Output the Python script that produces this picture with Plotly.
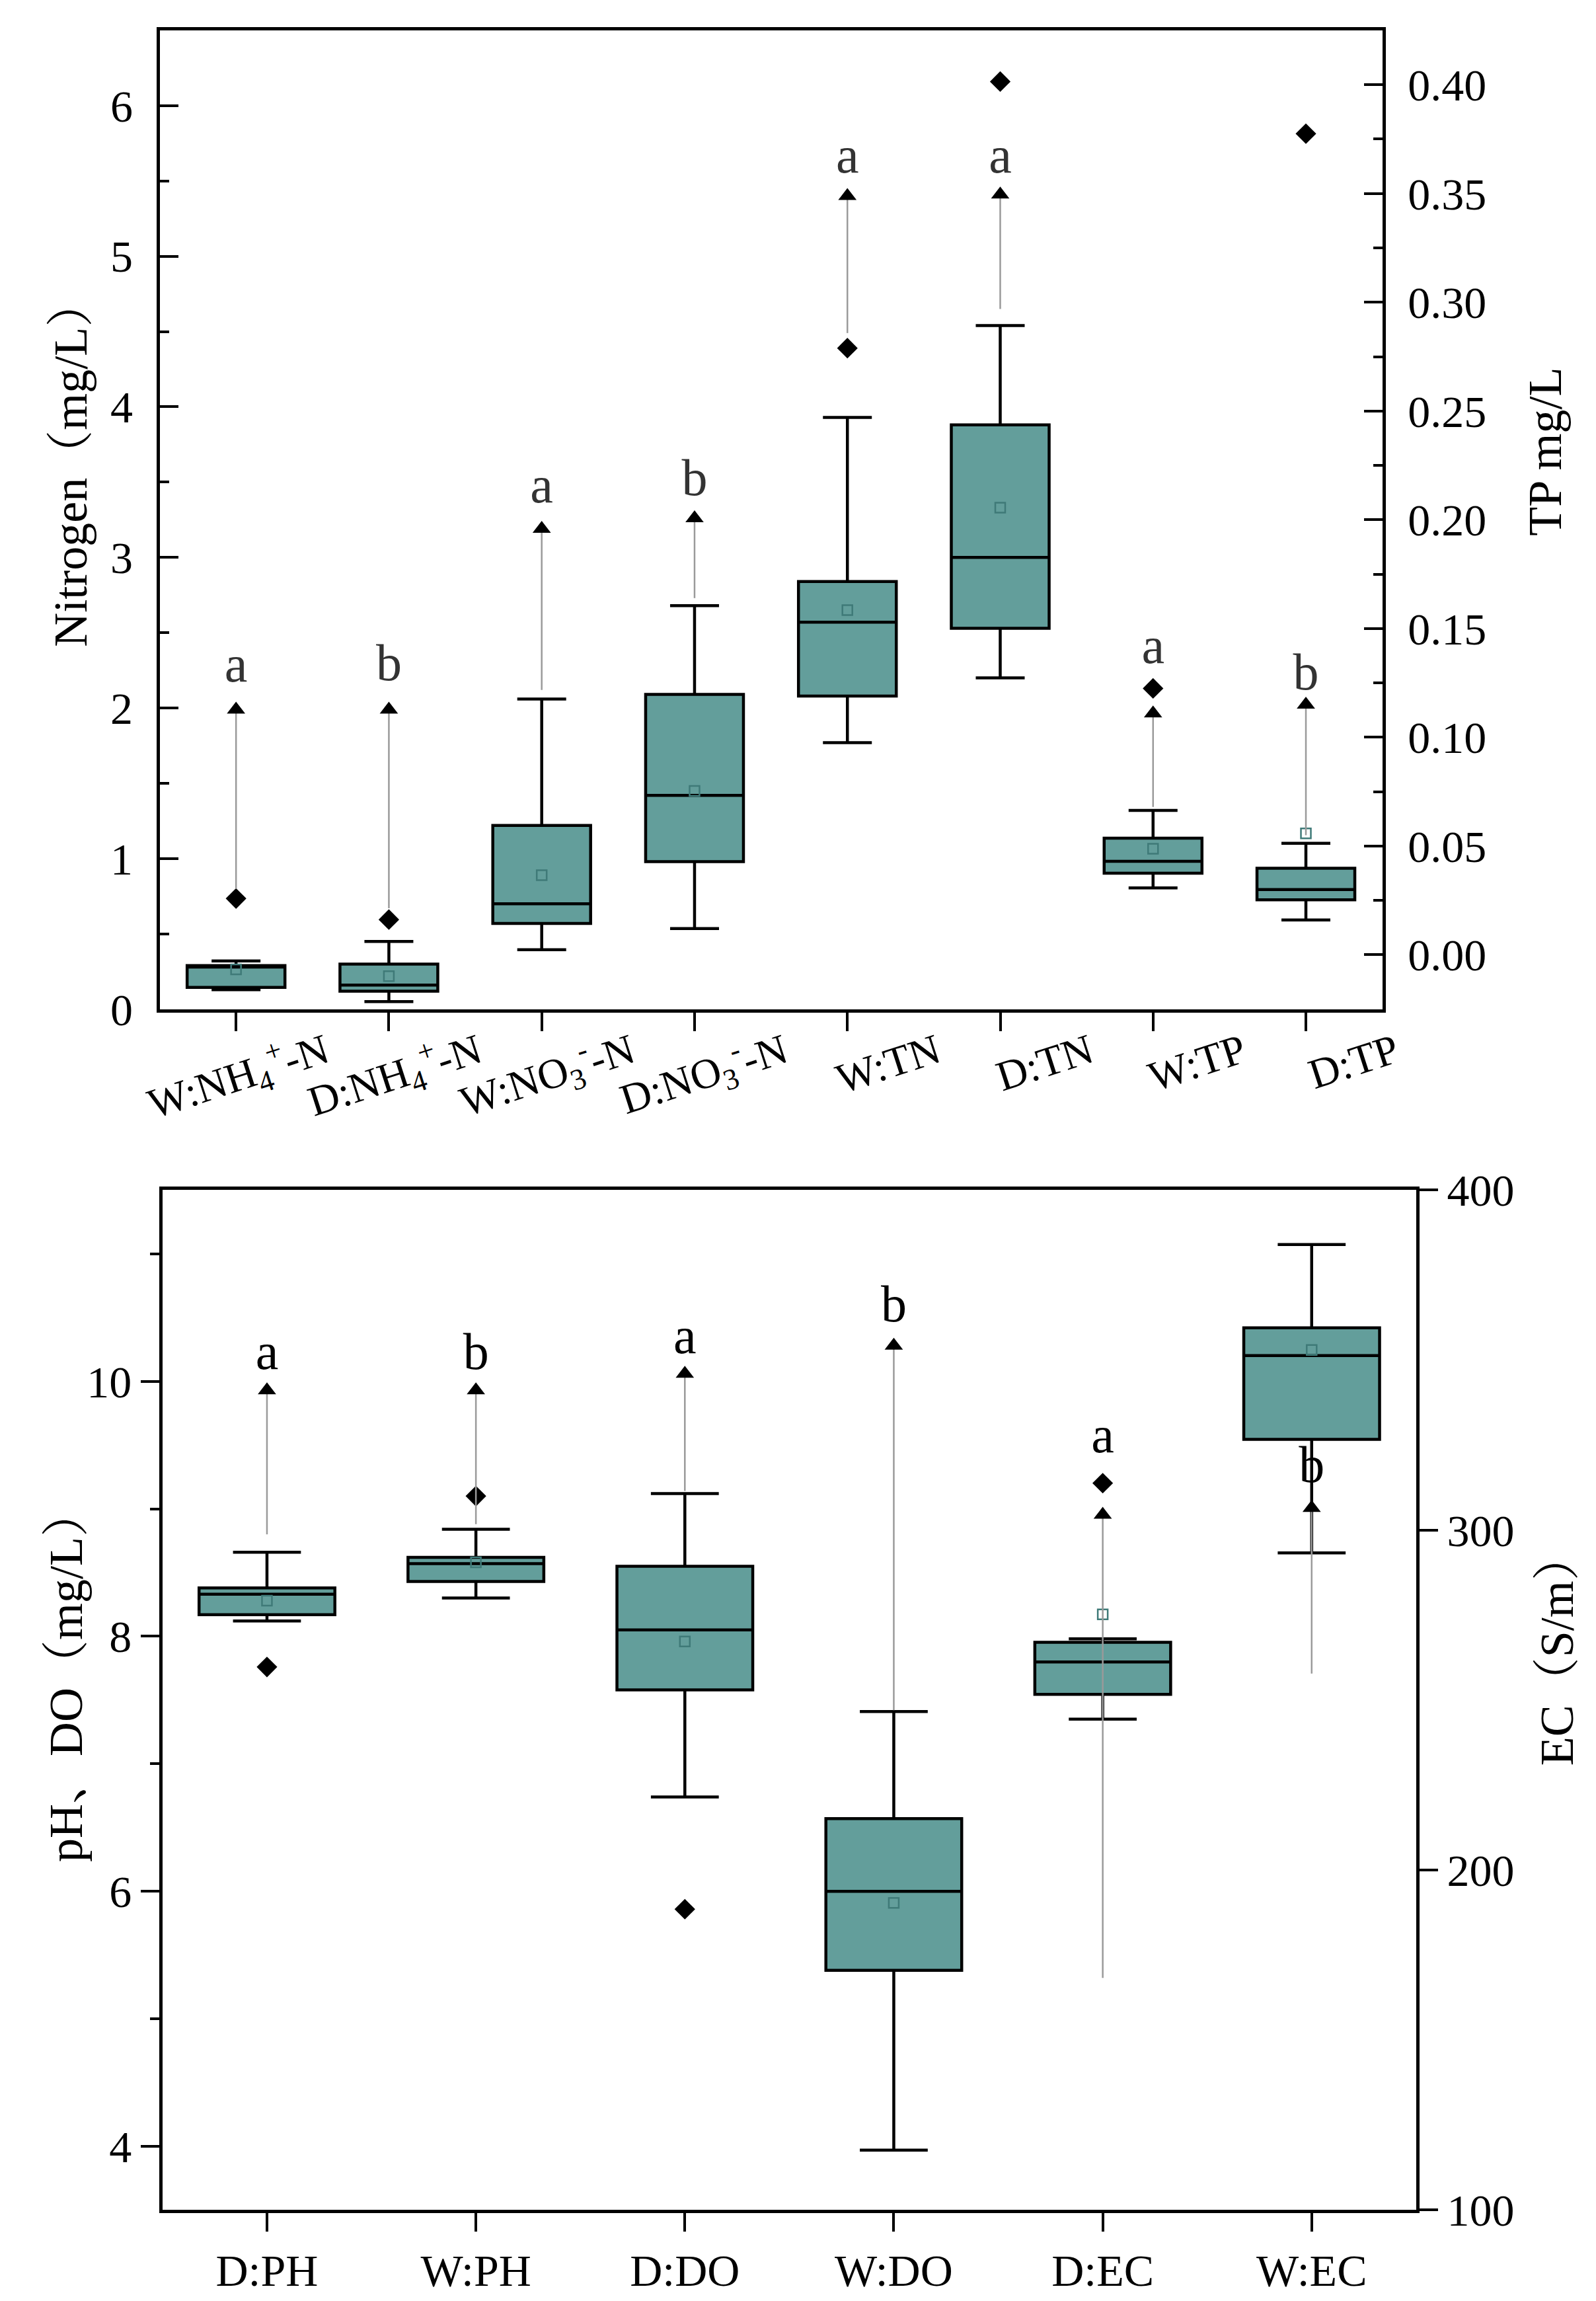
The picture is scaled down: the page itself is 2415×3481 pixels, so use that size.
import plotly.graph_objects as go

# TOP PANEL DATA (nitrogen on left axis, TP on right axis)
n_cats = ['W:NH4', 'D:NH4', 'W:NO3', 'D:NO3', 'W:TN', 'D:TN']
tp_cats = ['W:TP', 'D:TP']
top_cats = n_cats + tp_cats
top_labels = ['W:NH<sub>4</sub><sup>+</sup>-N', 'D:NH<sub>4</sub><sup>+</sup>-N',
              'W:NO<sub>3</sub><sup>-</sup>-N', 'D:NO<sub>3</sub><sup>-</sup>-N',
              'W:TN', 'D:TN', 'W:TP', 'D:TP']

n_q1 = [0.145, 0.12, 0.57, 0.98, 2.08, 2.53]
n_med = [0.28, 0.16, 0.70, 1.42, 2.57, 3.00]
n_q3 = [0.29, 0.30, 1.22, 2.09, 2.84, 3.88]
n_lo = [0.13, 0.05, 0.395, 0.535, 1.77, 2.20]
n_hi = [0.32, 0.45, 2.06, 2.68, 3.93, 4.54]
n_mean = [0.265, 0.22, 0.89, 1.45, 2.65, 3.33]
n_out_x = ['W:NH4', 'D:NH4', 'W:TN', 'D:TN']
n_out_y = [0.735, 0.595, 4.39, 6.16]
n_arrow_lo = [0.80, 0.67, 2.12, 2.73, 4.49, 4.65]
n_arrow_hi = [1.99, 1.99, 3.19, 3.26, 5.40, 5.41]
n_sig = ['a', 'b', 'a', 'b', 'a', 'a']
n_sig_y = [2.26, 2.27, 3.45, 3.50, 5.64, 5.64]

tp_q1 = [0.0375, 0.0253]
tp_med = [0.043, 0.030]
tp_q3 = [0.0536, 0.0398]
tp_lo = [0.0308, 0.016]
tp_hi = [0.0664, 0.0513]
tp_mean = [0.0488, 0.0558]
tp_out = [0.1225, 0.3775]
tp_arrow_lo = [0.068, 0.055]
tp_arrow_hi = [0.111, 0.115]
tp_sig = ['a', 'b']
tp_sig_y = [0.140, 0.128]

# BOTTOM PANEL DATA (pH/DO on left axis, EC on right axis)
b_cats = ['D:PH', 'W:PH', 'D:DO', 'W:DO']
ec_cats = ['D:EC', 'W:EC']
bot_cats = b_cats + ec_cats

b_q1 = [8.17, 8.43, 7.58, 5.38]
b_med = [8.33, 8.57, 8.05, 6.00]
b_q3 = [8.38, 8.62, 8.55, 6.57]
b_lo = [8.12, 8.30, 6.74, 3.97]
b_hi = [8.66, 8.84, 9.12, 7.41]
b_mean = [8.28, 8.58, 7.96, 5.91]
b_out_x = ['D:PH', 'W:PH', 'D:DO']
b_out_y = [7.76, 9.10, 5.86]
b_arrow_lo = [8.80, 8.88, 9.14, 7.42]
b_arrow_hi = [9.93, 9.93, 10.06, 10.28]
b_sig = ['a', 'b', 'a', 'b']
b_sig_y = [10.20, 10.20, 10.32, 10.57]

ec_q1 = [251.7, 326.7]
ec_med = [261.2, 351.3]
ec_q3 = [267.0, 359.5]
ec_lo = [244.4, 293.3]
ec_hi = [268.0, 384.0]
ec_mean = [275.2, 353.0]
ec_out_x = ['D:EC']
ec_out_y = [313.8]
ec_arrow_lo = [168.3, 257.8]
ec_arrow_hi = [304.5, 306.5]
ec_sig = ['a', 'b']
ec_sig_y = [326.7, 318.0]

FONT = 'Liberation Serif, Noto Serif CJK SC, Noto Sans CJK SC, serif'
FILL = '#639e9b'
MEAN_COL = '#3f7a78'

fig = go.Figure()


def add_group(cats, q1, med, q3, lo, hi, mean, out_x, out_y, a_lo, a_hi, sig, sig_y,
              xa, ya, sig_col, box_w):
    fig.add_trace(go.Box(x=cats, q1=q1, median=med, q3=q3, lowerfence=lo, upperfence=hi,
                         fillcolor=FILL, line=dict(color='black', width=4.5),
                         width=box_w, whiskerwidth=0.5, boxpoints=False,
                         xaxis=xa, yaxis=ya, showlegend=False))
    # mean markers
    fig.add_trace(go.Scatter(x=cats, y=mean, mode='markers', xaxis=xa, yaxis=ya,
                             marker=dict(symbol='square-open', size=15, color=MEAN_COL,
                                         line=dict(width=2.5, color=MEAN_COL)),
                             showlegend=False))
    # outliers
    if out_x:
        fig.add_trace(go.Scatter(x=out_x, y=out_y, mode='markers', xaxis=xa, yaxis=ya,
                                 marker=dict(symbol='diamond', size=24, color='black'),
                                 showlegend=False))
    # significance arrows
    for c, l, h in zip(cats, a_lo, a_hi):
        fig.add_trace(go.Scatter(x=[c, c], y=[l, h], mode='lines', xaxis=xa, yaxis=ya,
                                 line=dict(color='#9a9a9a', width=2.5), showlegend=False))
    fig.add_trace(go.Scatter(x=cats, y=a_hi, mode='markers', xaxis=xa, yaxis=ya,
                             marker=dict(symbol='triangle-up', size=24, color='black'),
                             showlegend=False))
    fig.add_trace(go.Scatter(x=cats, y=sig_y, mode='text', text=sig, xaxis=xa, yaxis=ya,
                             textfont=dict(family=FONT, size=78, color=sig_col),
                             showlegend=False))


add_group(n_cats, n_q1, n_med, n_q3, n_lo, n_hi, n_mean, n_out_x, n_out_y,
          n_arrow_lo, n_arrow_hi, n_sig, n_sig_y, 'x', 'y', '#333333', 0.64)
add_group(tp_cats, tp_q1, tp_med, tp_q3, tp_lo, tp_hi, tp_mean, tp_cats, tp_out,
          tp_arrow_lo, tp_arrow_hi, tp_sig, tp_sig_y, 'x', 'y2', '#333333', 0.64)
add_group(b_cats, b_q1, b_med, b_q3, b_lo, b_hi, b_mean, b_out_x, b_out_y,
          b_arrow_lo, b_arrow_hi, b_sig, b_sig_y, 'x2', 'y3', 'black', 0.65)
add_group(ec_cats, ec_q1, ec_med, ec_q3, ec_lo, ec_hi, ec_mean, ec_out_x, ec_out_y,
          ec_arrow_lo, ec_arrow_hi, ec_sig, ec_sig_y, 'x2', 'y4', 'black', 0.65)

axis_style = dict(showline=True, linecolor='black', linewidth=5, showgrid=False, zeroline=False,
                  automargin=False, ticklen=28, tickwidth=4, tickcolor='black',
                  tickfont=dict(family=FONT, size=68, color='black'))


def minor(direction, step):
    return dict(ticks=direction, ticklen=14, tickwidth=4, tickcolor='black', showgrid=False, dtick=step)


fig.update_layout(
    width=2415, height=3481,
    margin=dict(l=0, r=0, t=0, b=0),
    paper_bgcolor='white', plot_bgcolor='white',
    boxmode='overlay',
    font=dict(family=FONT, color='black'),
    xaxis=dict(axis_style, domain=[0.0967, 0.8628], anchor='y', mirror=True, ticks='outside',
               type='category', categoryorder='array', categoryarray=top_cats,
               tickvals=top_cats, ticktext=top_labels, range=[-0.5, 7.5],
               tickangle=-18, ticklabelshift=135, ticklabelstandoff=-30,
               tickfont=dict(family=FONT, size=64, color='black')),
    yaxis=dict(axis_style, domain=[0.5637, 0.9891], anchor='x', range=[0, 6.5], ticks='inside',
               dtick=1, minor=minor('inside', 0.5), ticklabelstandoff=22),
    yaxis2=dict(axis_style, overlaying='y', side='right', anchor='x', range=[-0.025, 0.425],
                ticks='inside', tick0=0, dtick=0.05, tickformat='.2f',
                minor=minor('inside', 0.025), ticklabelstandoff=20),
    xaxis2=dict(axis_style, domain=[0.0985, 0.884], anchor='y3', mirror=True, ticks='outside',
                type='category', categoryorder='array', categoryarray=bot_cats,
                range=[-0.5, 5.5]),
    yaxis3=dict(axis_style, domain=[0.0418, 0.4851], anchor='x2', range=[3.5, 11.5],
                ticks='outside', tick0=4, dtick=2, minor=minor('outside', 1)),
    yaxis4=dict(axis_style, overlaying='y3', side='right', anchor='x2', range=[100, 400],
                ticks='outside', dtick=100),
)

# axis titles
titles = [('Nitrogen（mg/L）', 0.041, 0.801), ('TP mg/L', 0.965, 0.806),
          ('pH、DO（mg/L）', 0.038, 0.274), ('EC（S/m）', 0.972, 0.2856)]
for txt, xp, yp in titles:
    fig.add_annotation(text=txt, x=xp, y=yp, xref='paper', yref='paper', showarrow=False,
                       xanchor='center', yanchor='middle', textangle=-90,
                       font=dict(family=FONT, size=72, color='black'))

fig.write_html("out.html")
